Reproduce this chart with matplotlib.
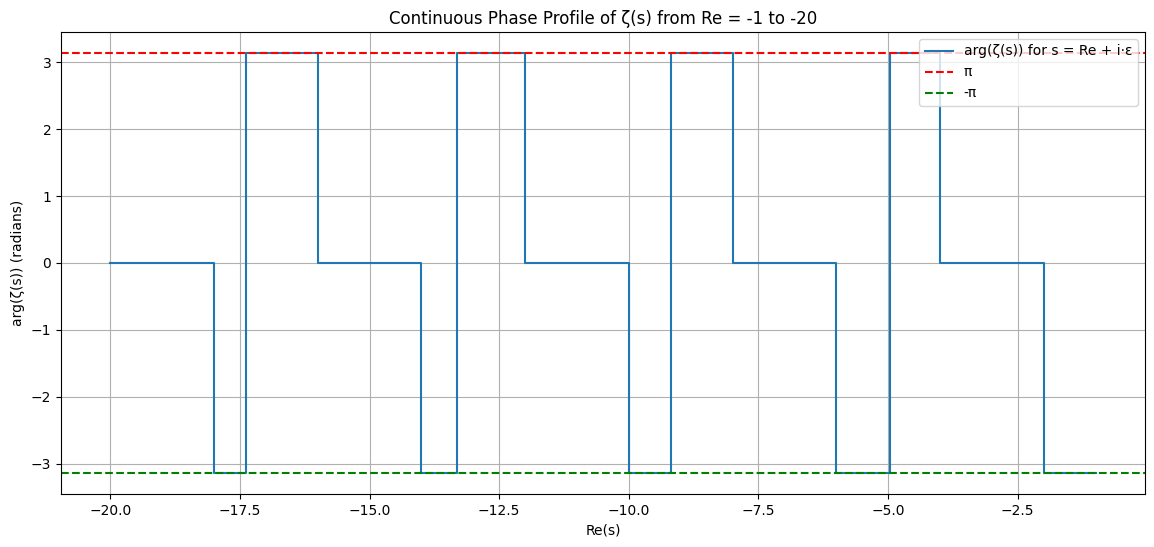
import matplotlib
matplotlib.use("Agg")
import matplotlib.pyplot as plt
import numpy as np

# Phase steps: segment edges along Re(s) and the level on each segment
edges = [-20.0, -18.0, -17.39, -16.0, -14.0, -13.31, -12.0, -10.0, -9.19,
         -8.0, -6.0, -4.96, -4.0, -2.0, -1.0]
levels = [0.0, -np.pi, np.pi, 0.0, -np.pi, np.pi, 0.0, -np.pi, np.pi,
          0.0, -np.pi, np.pi, 0.0, -np.pi]

# build a step path: each segment runs flat from its left edge to its right edge
xs = []
ys = []
for i, lev in enumerate(levels):
    xs += [edges[i], edges[i + 1]]
    ys += [lev, lev]

fig = plt.figure(figsize=(11.54, 5.47), dpi=100)
ax = fig.add_axes([0.0529, 0.0969, 0.9391, 0.8446])

ax.plot(xs, ys, label="arg(ζ(s)) for s = Re + i·ε")
ax.axhline(np.pi, color="red", linestyle="--", label="π")
ax.axhline(-np.pi, color="green", linestyle="--", label="-π")

ax.set_title("Continuous Phase Profile of ζ(s) from Re = -1 to -20")
ax.set_xlabel("Re(s)")
ax.set_ylabel("arg(ζ(s)) (radians)")
ax.grid(True)
ax.legend(loc="upper right")

fig.savefig("out.png", dpi=100)
